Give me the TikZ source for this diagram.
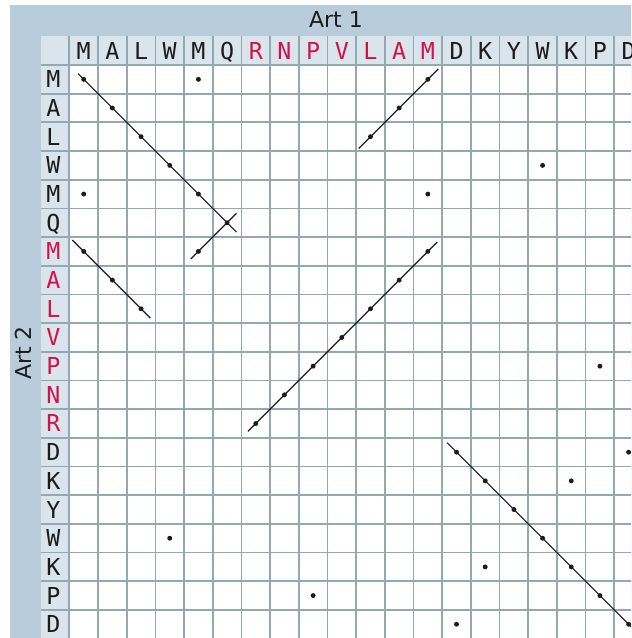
\documentclass[tikz,border=0pt]{standalone}
\usepackage{fontspec}
\setmainfont{DejaVu Sans}
\newfontfamily\gridfont{DejaVu Sans Mono}
\usepackage{tikz}
\usetikzlibrary{calc}
\definecolor{FrameBlue}{RGB}{184,204,220}
\definecolor{HeadFill}{RGB}{218,228,237}
\definecolor{GridLine}{RGB}{148,168,178}
\definecolor{MatchRed}{RGB}{210,18,75}
\definecolor{InkDark}{RGB}{28,28,30}
\newcommand\cellw{28.68}
\newcommand\gridx{69.35}
\newcommand\gridy{65}

\begin{document}
\begin{tikzpicture}[x=0.75pt,y=-0.75pt,
   seqlabel/.style={font=\gridfont\fontsize{17.5}{17.5}\selectfont,inner sep=0pt,text height=12.7pt,text depth=0pt},
   hitdot/.style={circle,fill=InkDark,inner sep=0pt,minimum size=3.7pt},
   runline/.style={line width=0.9pt,InkDark},
   gridline/.style={line width=1.3pt,GridLine},
   axistitle/.style={font=\fontsize{16.5}{16.5}\selectfont,text=InkDark,inner sep=0pt}]
  \useasboundingbox (0,0) rectangle (631,638);
  \clip (0,0) rectangle (631,638);
  \fill[white] (0,0) rectangle (631,638);
  % frame and header fills
  \fill[FrameBlue] (10,5) rectangle (700,720);
  \fill[white] (\gridx,\gridy) rectangle (700,720);
  \fill[HeadFill] (40.67,36.3) rectangle (700,\gridy);
  \fill[HeadFill] (40.67,\gridy) rectangle (\gridx,720);
  \foreach \k in {0,...,20}{
    \draw[gridline] ({\gridx+\k*\cellw},36.3) -- ({\gridx+\k*\cellw},720);
    \draw[gridline] (40.67,{\gridy+\k*\cellw}) -- (700,{\gridy+\k*\cellw});
  }
  \node[axistitle] (art1) at (336,19.5) {Art 1};
  \node[axistitle,rotate=90] (art2) at (23.5,353) {Art 2};
  % sequence letters
  \foreach \ca/\cc [count=\i] in {M/InkDark,A/InkDark,L/InkDark,W/InkDark,M/InkDark,Q/InkDark,
      R/MatchRed,N/MatchRed,P/MatchRed,V/MatchRed,L/MatchRed,A/MatchRed,M/MatchRed,
      D/InkDark,K/InkDark,Y/InkDark,W/InkDark,K/InkDark,P/InkDark,D/InkDark}{
    \node[seqlabel,text=\cc] (top-\i) at ({\gridx+(\i-0.5)*\cellw},51.2) {\ca};
  }
  \foreach \rb/\cc [count=\j] in {M/InkDark,A/InkDark,L/InkDark,W/InkDark,M/InkDark,Q/InkDark,
      M/MatchRed,A/MatchRed,L/MatchRed,V/MatchRed,P/MatchRed,N/MatchRed,R/MatchRed,
      D/InkDark,K/InkDark,Y/InkDark,W/InkDark,K/InkDark,P/InkDark,D/InkDark}{
    \node[seqlabel,text=\cc] (side-\j) at (53.5,{\gridy+(\j-0.5)*\cellw}) {\rb};
  }
  % a dot wherever the two letters agree
  \foreach \ca [count=\i] in {M,A,L,W,M,Q,R,N,P,V,L,A,M,D,K,Y,W,K,P,D}{
    \foreach \rb [count=\j] in {M,A,L,W,M,Q,M,A,L,V,P,N,R,D,K,Y,W,K,P,D}{
      \ifx\ca\rb
        \node[hitdot] (d-\j-\i) at ({\gridx+(\i-0.5)*\cellw},{\gridy+(\j-0.5)*\cellw}) {};
      \fi
    }
  }
  % diagonal runs
  \draw[runline,shorten <=-6pt,shorten >=-10pt] (d-1-1.center) -- (d-6-6.center);
  \draw[runline,shorten <=-10pt,shorten >=-8pt] (d-6-6.center) -- (d-7-5.center);
  \draw[runline,shorten <=-11pt,shorten >=-12.5pt] (d-1-13.center) -- (d-3-11.center);
  \draw[runline,shorten <=-12pt,shorten >=-10pt] (d-7-1.center) -- (d-9-3.center);
  \draw[runline,shorten <=-10pt,shorten >=-8.3pt] (d-7-13.center) -- (d-13-7.center);
  \draw[runline,shorten <=-10pt,shorten >=-10pt] (d-14-14.center) -- (d-20-20.center);
\end{tikzpicture}
\end{document}
